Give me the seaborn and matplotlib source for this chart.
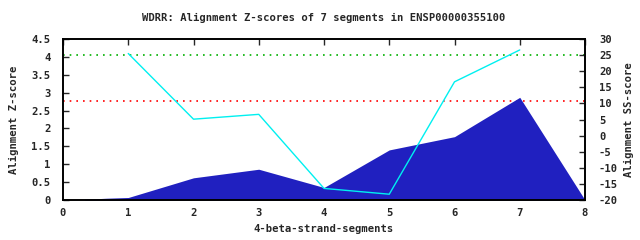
import matplotlib
matplotlib.use("Agg")
import matplotlib.pyplot as plt
import seaborn as sns
import pandas as pd

# Data
z_x = [0.33, 0.67, 1, 2, 3, 4, 5, 6, 7, 8]
z_vals = [0.02, 0.05, 0.07, 0.62, 0.86, 0.35, 1.40, 1.77, 2.87, 0.0]
ss_x = [1, 2, 3, 4, 5, 6, 7]
ss_vals = [25.5, 5.1, 6.6, -16.4, -18.2, 16.7, 26.6]
green_level = 4.05
red_level = 2.78
x_ticks = [0, 1, 2, 3, 4, 5, 6, 7, 8]
y_ticks = [0, 0.5, 1, 1.5, 2, 2.5, 3, 3.5, 4, 4.5]
y2_ticks = [-20, -15, -10, -5, 0, 5, 10, 15, 20, 25, 30]
title = "WDRR: Alignment Z-scores of 7 segments in ENSP00000355100"

sns.set_style("white")
plt.rcParams['font.family'] = ['DejaVu Sans Mono', 'DejaVu Sans']
plt.rcParams['font.weight'] = 'bold'
fs = 7.6

fig = plt.figure(figsize=(6.4, 2.4), dpi=100)
ax = fig.add_axes([63/640, 40/240, (585-63)/640, (200-39)/240])
ax2 = ax.twinx()

zdf = pd.DataFrame({"x": z_x, "z": z_vals})
ax.fill_between(zdf["x"], 0, zdf["z"], color="#2020C0", linewidth=0, zorder=2)
ax.axhline(green_level, color="#00B000", linestyle=(0, (1, 3)), linewidth=1.2, zorder=1)
ax.axhline(red_level, color="#FF0000", linestyle=(0, (1, 3)), linewidth=1.2, zorder=1)

ssdf = pd.DataFrame({"x": ss_x, "ss": ss_vals})
sns.lineplot(data=ssdf, x="x", y="ss", ax=ax2, color="#00F0F0", linewidth=1.0)

ax.set_xlim(0, 8)
ax.set_ylim(0, 4.5)
ax2.set_ylim(-20, 30)
ax.set_xticks(x_ticks)
ax.set_yticks(y_ticks)
ax2.set_yticks(y2_ticks)
ax.set_xticklabels([str(t) for t in x_ticks], fontsize=fs, fontweight='bold')
ax.set_yticklabels([("%g" % t) for t in y_ticks], fontsize=fs, fontweight='bold')
ax2.set_yticklabels([str(t) for t in y2_ticks], fontsize=fs, fontweight='bold')

ax.tick_params(axis='x', direction='in', length=4, width=1, top=True, pad=6)
ax.tick_params(axis='y', direction='in', length=4, width=1, right=False, pad=9)
ax2.tick_params(axis='y', direction='in', length=4, width=1, pad=10)

for a in (ax, ax2):
    for s in a.spines.values():
        s.set_color("black")
        s.set_linewidth(1.2)

ax.set_xlabel("4-beta-strand-segments", fontsize=fs, fontweight='bold', labelpad=4)
ax.set_ylabel("Alignment Z-score", fontsize=fs, fontweight='bold', labelpad=9)
ax2.set_ylabel("Alignment SS-score", fontsize=fs, fontweight='bold', labelpad=4)
ax2.yaxis.set_label_position("right")

fig.text(324/640, 1 - 18/240, title, ha='center', va='center', fontsize=fs, fontweight='bold')

fig.savefig("out.png", dpi=100, facecolor="white")
